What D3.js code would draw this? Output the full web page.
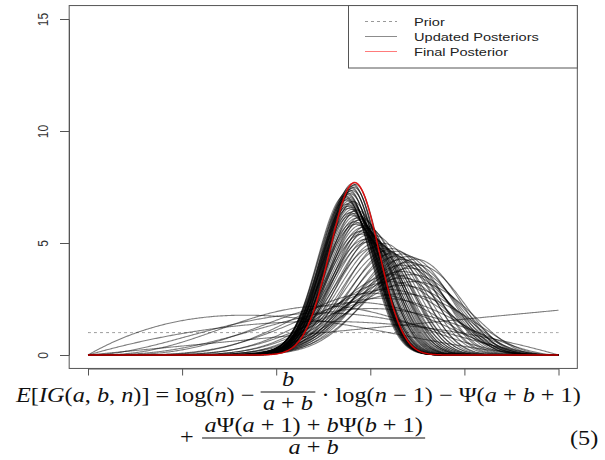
<!DOCTYPE html>
<meta charset="utf-8">
<style>
body{ margin:0; background:#fff; }
.axis path, .axis line{ fill:none; stroke:#555; }
.axis text{ font:12px "Liberation Sans", Arial, sans-serif; fill:#333; }
.legend text{ font:11.5px "Liberation Sans", Arial, sans-serif; fill:#222; }
.eq text{ font-family:"Liberation Serif", "Times New Roman", serif; font-size:21px; fill:#111; white-space:pre; }
</style>
<svg class="chart" width="605" height="460"></svg>
<script src="https://cdnjs.cloudflare.com/ajax/libs/d3/7.8.5/d3.min.js"></script>
<script>
// coin tosses (1 = success), each one updates the Beta(1,1) prior
var tosses = [1,0,0,1,1,0,1,1,1,0, 1,1,1,0,1,1,0,1,1,1,
              0,1,1,0,1,0,1,0,1,0, 1,0,0,1,1,0,0,1,0,1,
              1,0,0,1,0,1,1,0,1,0, 0,1,0,1,1,0,1,0,0,1,
              0,1,1,0,0,1,0,1,0,1, 1,0,0,1,0,1,0,1,1,0,
              1,1,0,1,1,0,1,1,0,1];
var priorA = 1, priorB = 1;
var xTicks = [0, 0.2, 0.4, 0.6, 0.8, 1];
var yTicks = [0, 5, 10, 15];
var legendLabels = ["Prior", "Updated Posteriors", "Final Posterior"];

var svg = d3.select(".chart");

var x = d3.scaleLinear().domain([0, 1]).range([88, 558.5]);
var y = d3.scaleLinear().domain([0, 15]).range([355, 19]);

// posterior parameters after every toss
var post = [], a = priorA, b = priorB;
tosses.forEach(function(t){
	if (t) a++; else b++;
	post.push({a: a, b: b});
});

function lgamma(z){
	var g = 7, c = [0.99999999999980993, 676.5203681218851, -1259.1392167224028,
		771.32342877765313, -176.61503916999185, 12.507343278686905,
		-0.13857109526572012, 9.9843695780195716e-6, 1.5056327351493116e-7];
	z -= 1;
	var s = c[0];
	for (var i = 1; i < g + 2; i++) s += c[i] / (z + i);
	var t = z + g + 0.5;
	return 0.5 * Math.log(2 * Math.PI) + (z + 0.5) * Math.log(t) - t + Math.log(s);
}
function dbeta(p, a, b){
	var l = lgamma(a + b) - lgamma(a) - lgamma(b);
	if (a !== 1) l += (a - 1) * Math.log(p);
	if (b !== 1) l += (b - 1) * Math.log(1 - p);
	return Math.exp(l);
}
var grid = d3.range(0, 401).map(function(i){ return i / 400; });

var line = d3.line()
	.x(function(d){ return x(d[0]); })
	.y(function(d){ return y(d[1]); });

function curve(d){
	return line(grid.map(function(p){ return [p, dbeta(p, d.a, d.b)]; }));
}

// prior
svg.append("path")
	.attr("d", line(grid.map(function(p){ return [p, dbeta(p, priorA, priorB)]; })))
	.attr("fill", "none").attr("stroke", "#999").attr("stroke-dasharray", "3,3");

// updated posteriors
svg.append("g").selectAll("path")
	.data(post)
	.enter().append("path")
	.attr("d", curve)
	.attr("fill", "none")
	.attr("stroke", "#000")
	.attr("stroke-opacity", 0.5)
	.attr("stroke-width", 1.1);

// final posterior
svg.append("path")
	.attr("d", curve(post[post.length - 1]))
	.attr("fill", "none").attr("stroke", "red").attr("stroke-opacity", 0.8).attr("stroke-width", 1.5);

// axes
var yAxis = svg.append("g")
	.attr("class", "axis")
	.attr("transform", "translate(69,0)")
	.call(d3.axisLeft(y).tickValues(yTicks).tickSize(9).tickSizeOuter(0));
yAxis.selectAll(".tick text")
	.attr("x", null).attr("dy", null)
	.attr("text-anchor", "middle")
	.attr("dominant-baseline", "central")
	.attr("transform", "translate(-26,0) scale(1.25,1) rotate(-90)");

svg.append("g")
	.attr("class", "axis")
	.attr("transform", "translate(0,368.5)")
	.call(d3.axisBottom(x).tickValues(xTicks).tickSize(7).tickSizeOuter(0).tickFormat(""));

// box
svg.append("rect")
	.attr("x", x(-0.04)).attr("y", y(15.6))
	.attr("width", x(1.04) - x(-0.04)).attr("height", y(-0.6) - y(15.6))
	.attr("fill", "none").attr("stroke", "#555");

// legend
var legend = svg.append("g").attr("class", "legend");
legend.append("rect")
	.attr("x", 348.5).attr("y", y(15.6))
	.attr("width", x(1.04) - 348.5).attr("height", 68 - y(15.6))
	.attr("fill", "#fff").attr("stroke", "#555");
var legStyle = [
	{stroke: "#999", dash: "3,3"},
	{stroke: "#8c8c8c", dash: null},
	{stroke: "#ff7b7b", dash: null}
];
legendLabels.forEach(function(l, i){
	var by = 25.5 + i * 15;
	legend.append("line")
		.attr("x1", 365).attr("x2", 397).attr("y1", by - 4).attr("y2", by - 4)
		.attr("stroke", legStyle[i].stroke)
		.attr("stroke-dasharray", legStyle[i].dash);
	legend.append("text")
		.attr("transform", "translate(414," + by + ") scale(1.27,1)")
		.text(l);
});

// equation below the plot
var eq = svg.append("g").attr("class", "eq");
var inner = eq.append("g");
function piece(yy, parts){
	var t = inner.append("text").attr("y", yy);
	parts.forEach(function(p){
		t.append("tspan").text(p[0]).style("font-style", p[1] ? "italic" : "normal");
	});
	return t;
}
function run(x0, yy, parts){
	var t = piece(yy, parts).attr("x", x0);
	return x0 + t.node().getComputedTextLength();
}
function frac(x0, yBar, num, den, denGap){
	var tn = piece(yBar - 6, num), td = piece(yBar + denGap, den);
	var wn = tn.node().getComputedTextLength(), wd = td.node().getComputedTextLength();
	var w = Math.max(wn, wd) + 4;
	tn.attr("x", x0 + (w - wn) / 2);
	td.attr("x", x0 + (w - wd) / 2);
	inner.append("line")
		.attr("x1", x0).attr("x2", x0 + w).attr("y1", yBar).attr("y2", yBar)
		.attr("stroke", "#111").attr("stroke-width", 0.9);
	return x0 + w;
}

var left = 16, base1 = 402, bar1 = 392;
var cx = run(0, base1, [["E",1],["[",0],["IG",1],["(",0],["a",1],[", ",0],["b",1],[", ",0],["n",1],[")] ",0],
	["= log(",0],["n",1],[") \u2212 ",0]]);
cx = frac(cx, bar1, [["b",1]], [["a",1],[" + ",0],["b",1]], 18);
cx = run(cx, base1, [[" \u00b7 log(",0],["n",1],[" \u2212 1) \u2212 \u03a8(",0],["a",1],[" + ",0],["b",1],[" + 1)",0]]);
var sx = (581 - left) / cx;
inner.attr("transform", "translate(" + left + ",0) scale(" + sx + ",1)");

var bar2 = 438;
var cx2 = run((180 - left) / sx, 444, [["+ ",0]]);
frac(cx2 + 2, bar2,
	[["a",1],["\u03a8(",0],["a",1],[" + 1) + ",0],["b",1],["\u03a8(",0],["b",1],[" + 1)",0]],
	[["a",1],[" + ",0],["b",1]], 16);
run((570 - left) / sx, 445, [["(5)",0]]);
</script>
